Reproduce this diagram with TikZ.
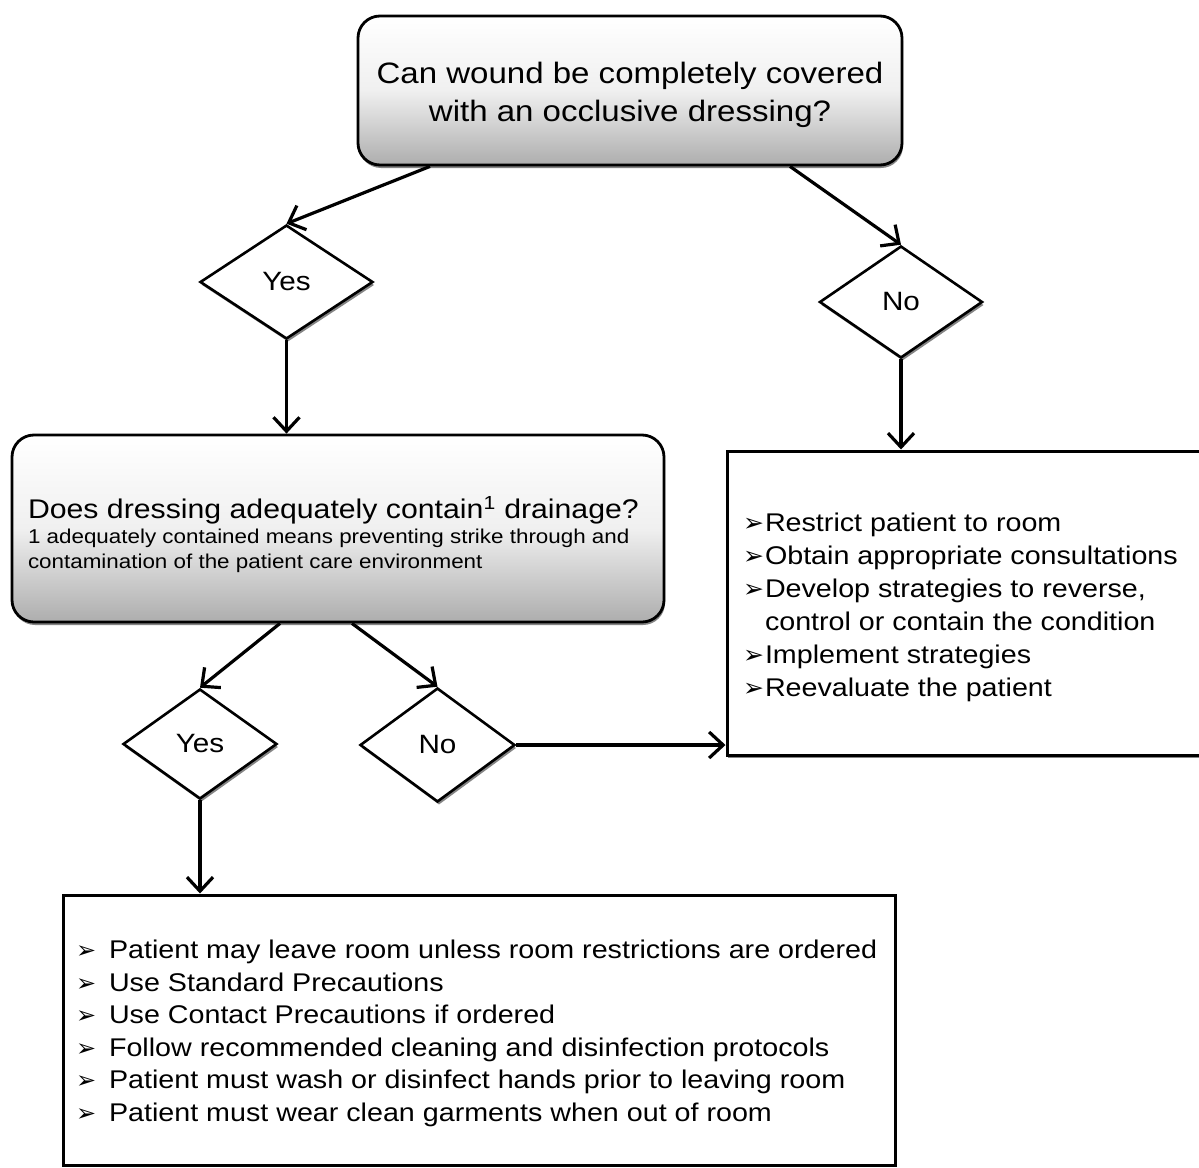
\documentclass[tikz,border=0pt]{standalone}
\usepackage{fontspec}
\setmainfont{Liberation Sans}[FakeStretch=1.12]
\newfontfamily\dejavu{DejaVu Sans}
\usetikzlibrary{shapes.geometric,shadows,arrows.meta,calc}
\newcommand{\bulR}{\makebox[22pt][l]{\dejavu\fontsize{25}{25}\selectfont ➢}}
\newcommand{\bulB}{\makebox[33pt][l]{\dejavu\fontsize{24}{24}\selectfont ➢}}
\tikzset{
  qbox/.style={draw=black, line width=2.8pt, rounded corners=22pt,
    top color=white, bottom color=black!32, middle color=black!6,
    drop shadow={shadow xshift=1pt, shadow yshift=-3pt, fill=black!60, opacity=0.8},
    inner sep=0pt},
  dia/.style={diamond, draw=black, line width=2.6pt, fill=white, inner sep=0pt,
    drop shadow={shadow xshift=1.5pt, shadow yshift=-3pt, fill=black!60, opacity=0.8},
    font=\fontsize{26.5}{30}\selectfont},
  abox/.style={rectangle, draw=black, line width=3pt, fill=white, inner sep=0pt,
    font=\fontsize{25.6}{33}\selectfont},
  arr/.style={line width=3.2pt, -{Straight Barb[length=14pt,width=26pt]}}
}
\begin{document}
\begin{tikzpicture}[x=1pt,y=-1pt]
\useasboundingbox[fill=white] (0,0) rectangle (1199,1167);

\node[qbox, minimum width=544pt, minimum height=149pt,
  font=\fontsize{29.5}{38}\selectfont] (q1) at (630,90.5)
  {\parbox{530pt}{\vspace*{8pt}\centering Can wound be completely covered\\with an occlusive dressing?}};

\node[dia, minimum width=173pt, minimum height=114pt] (y1) at (286.5,282) {Yes};
\node[dia, minimum width=163pt, minimum height=112pt] (n1) at (901,302) {No};

\node[qbox, minimum width=652pt, minimum height=187pt] (q2) at (338,528.5)
  {\parbox{640pt}{\raggedright\vspace*{12pt}%
   {\fontsize{27}{33}\selectfont\hspace*{10pt}Does dressing adequately contain\textsuperscript{1} drainage?\par}
   {\fontsize{20}{25}\selectfont\hspace*{10pt}1 adequately contained means preventing strike through and\\
    \hspace*{10pt}contamination of the patient care environment\par}}};

\node[abox, minimum width=478pt, minimum height=304pt,
  drop shadow={shadow xshift=1pt, shadow yshift=-3pt, fill=black!60, opacity=0.8}] (r) at (966,603)
  {\parbox{446pt}{\raggedright\vspace*{8pt}%
   \bulR Restrict patient to room\\
   \bulR Obtain appropriate consultations\\
   \bulR Develop strategies to reverse,\\
   \hspace*{22pt}control or contain the condition\\
   \bulR Implement strategies\\
   \bulR Reevaluate the patient}};

\node[dia, minimum width=154pt, minimum height=110pt] (y2) at (200,744) {Yes};
\node[dia, minimum width=155pt, minimum height=114pt] (n2) at (437.5,745) {No};

\node[abox, minimum width=832pt, minimum height=270pt,
  font=\fontsize{25.6}{32.5}\selectfont] (b) at (479,1030)
  {\parbox{806pt}{\raggedright\vspace*{7pt}%
   \bulB Patient may leave room unless room restrictions are ordered\\
   \bulB Use Standard Precautions\\
   \bulB Use Contact Precautions if ordered\\
   \bulB Follow recommended cleaning and disinfection protocols\\
   \bulB Patient must wash or disinfect hands prior to leaving room\\
   \bulB Patient must wear clean garments when out of room}};

\draw[arr] ([xshift=-200pt]q1.south) -- (y1.north);
\draw[arr] ([xshift=160pt]q1.south) -- (n1.north);
\draw[arr] (y1.south) -- (y1.south |- q2.north);
\draw[arr] (n1.south) -- (n1.south |- r.north);
\draw[arr] ([xshift=-58pt]q2.south) -- (y2.north);
\draw[arr] ([xshift=14pt]q2.south) -- (n2.north);
\draw[arr] (n2.east) -- (n2.east -| r.west);
\draw[arr] (y2.south) -- (y2.south |- b.north);
\end{tikzpicture}
\end{document}
